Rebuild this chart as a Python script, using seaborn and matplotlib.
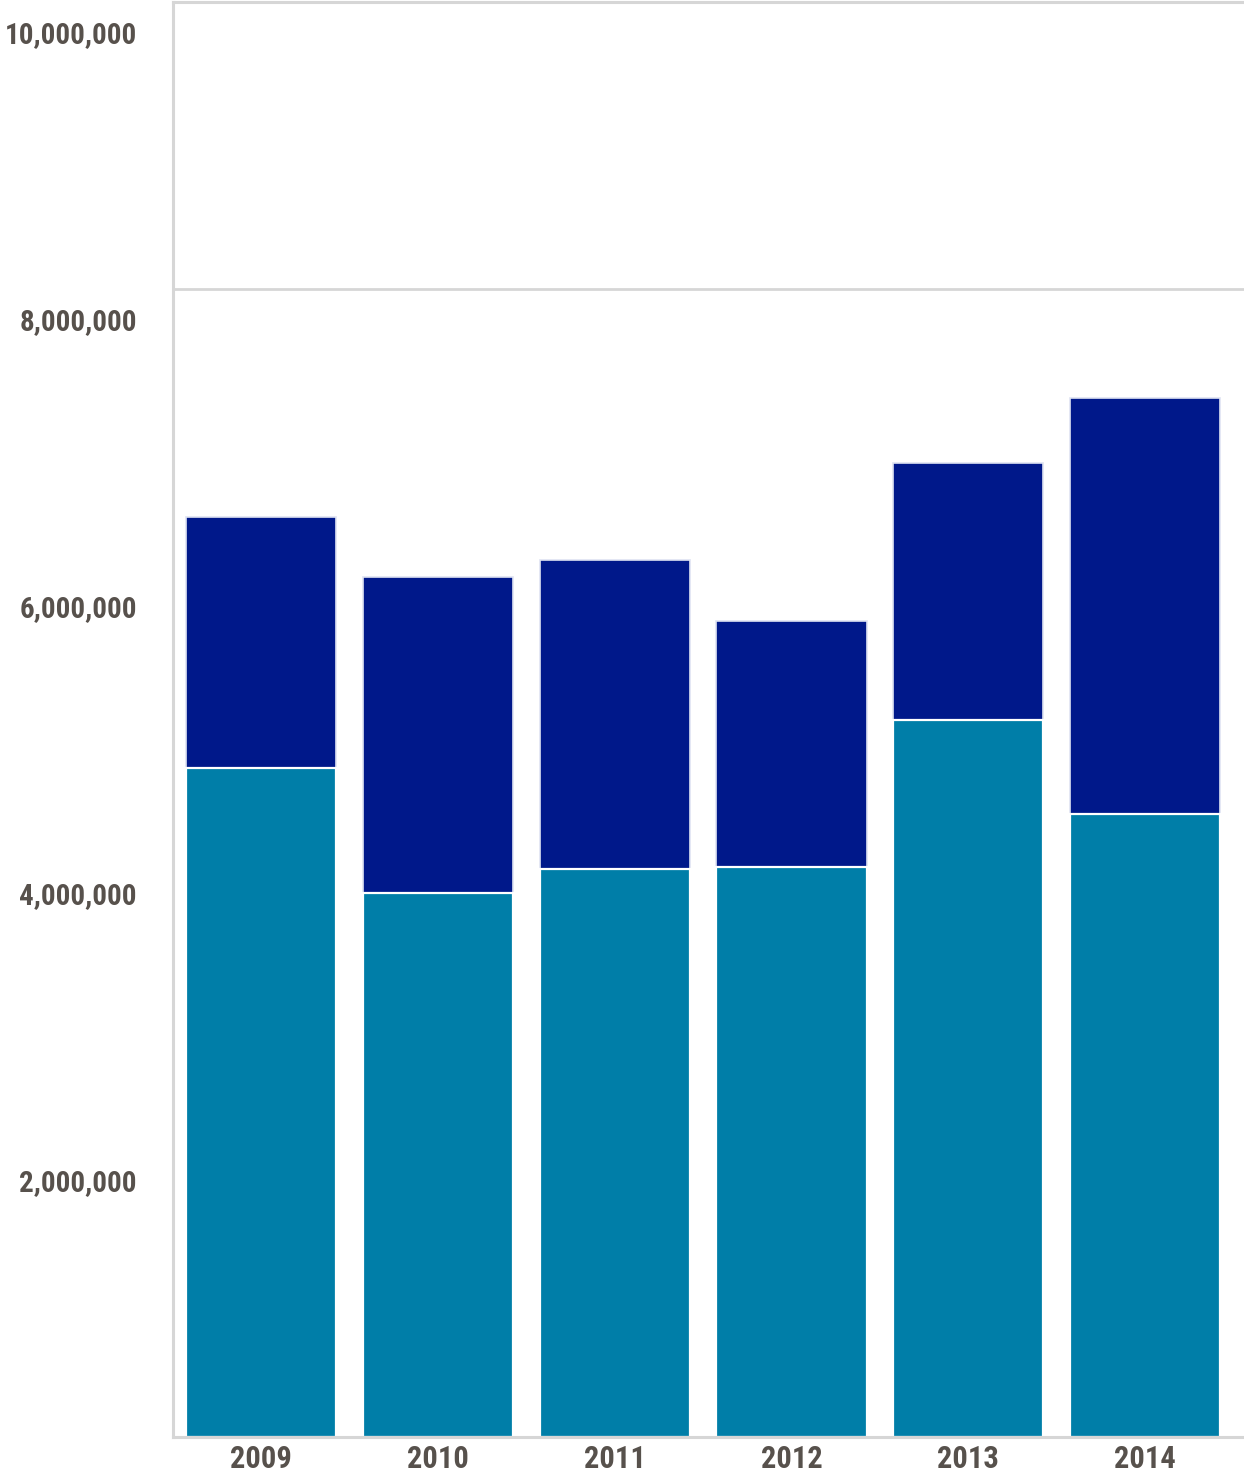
import matplotlib
matplotlib.use("Agg")
import matplotlib.pyplot as plt
import matplotlib.transforms as mtransforms
import seaborn as sns
import pandas as pd

years = ["2009", "2010", "2011", "2012", "2013", "2014"]
lower_values = [4660000, 3790000, 3960000, 3970000, 5000000, 4340000]
upper_values = [1750000, 2200000, 2150000, 1720000, 1790000, 2900000]
y_ticks = [2000000, 4000000, 6000000, 8000000, 10000000]

df = pd.DataFrame({"year": years, "lower": lower_values, "upper": upper_values})
df["total"] = df["lower"] + df["upper"]

sns.set_theme(style="white")
plt.rcParams["font.family"] = ["Roboto Condensed", "Roboto", "DejaVu Sans"]

fig = plt.figure(figsize=(12.44, 14.74), dpi=100)
ax = fig.add_axes([0.139, 0.0251, 0.861, 0.9735])

navy = "#00188a"
teal = "#007ea8"

sns.barplot(data=df, x="year", y="total", color=navy, width=0.85,
            edgecolor="#dfe3f2", linewidth=1.2, saturation=1, ax=ax)
sns.barplot(data=df, x="year", y="lower", color=teal, width=0.85,
            edgecolor="white", linewidth=1.6, saturation=1, ax=ax)

ax.set_ylim(0, 10000000)
ax.set_xlim(-0.5, 5.56)
ax.set_yticks(y_ticks)
ax.set_yticklabels([f"{v:,}" for v in y_ticks])
ax.axhline(8000000, color="#d6d6d6", linewidth=2, zorder=0)

label_color = "#57514c"
ax.tick_params(axis="y", length=0, pad=26, labelsize=21, labelcolor=label_color)
ax.tick_params(axis="x", length=0, pad=5, labelsize=22, labelcolor=label_color)

# y labels sit just below their gridline
shift = mtransforms.ScaledTranslation(0, -30 / 100, fig.dpi_scale_trans)
for lbl in ax.get_yticklabels():
    lbl.set_transform(lbl.get_transform() + shift)
for lbl in ax.get_xticklabels() + ax.get_yticklabels():
    lbl.set_fontweight("bold")

ax.set_xlabel("")
ax.set_ylabel("")
for side in ["left", "top", "bottom"]:
    ax.spines[side].set_visible(True)
    ax.spines[side].set_color("#d6d6d6")
    ax.spines[side].set_linewidth(2.2)
ax.spines["right"].set_visible(False)

fig.savefig("out.png", dpi=100)
